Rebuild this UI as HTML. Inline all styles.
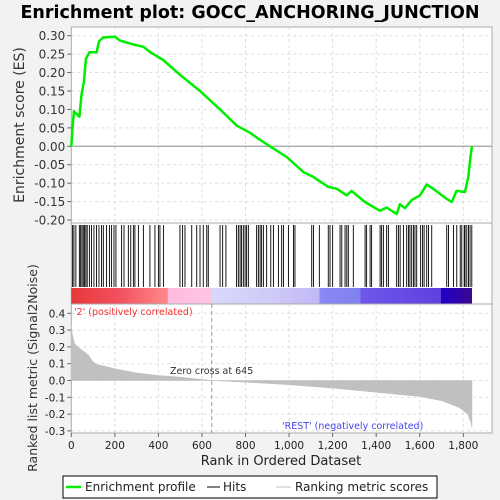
<!DOCTYPE html>
<html><head><meta charset="utf-8"><style>
body{margin:0;background:#f2f2f2;}
svg{display:block;font-family:"DejaVu Sans","Liberation Sans",sans-serif;}
</style></head><body>
<svg id="chart" width="500" height="500">
<rect x="0" y="0" width="500" height="500" fill="#f2f2f2"/>
<text x="250" y="18" text-anchor="middle" font-size="17.5" font-weight="bold" fill="#000">Enrichment plot: GOCC_ANCHORING_JUNCTION</text>
<defs>
<linearGradient id="cbar" x1="0" x2="1" y1="0" y2="0">
<stop offset="0" stop-color="#e83838"/>
<stop offset="0.12" stop-color="#f25060"/>
<stop offset="0.24" stop-color="#ff8a8a"/>
<stop offset="0.242" stop-color="#ffbbdd"/>
<stop offset="0.35" stop-color="#ffc4e4"/>
<stop offset="0.351" stop-color="#d8d8fa"/>
<stop offset="0.5" stop-color="#cfcaf8"/>
<stop offset="0.619" stop-color="#c0b8f6"/>
<stop offset="0.62" stop-color="#8888f6"/>
<stop offset="0.721" stop-color="#8080f0"/>
<stop offset="0.722" stop-color="#6e58ea"/>
<stop offset="0.922" stop-color="#6040e0"/>
<stop offset="0.923" stop-color="#2200c8"/>
<stop offset="1" stop-color="#3a0890"/>
</linearGradient>
</defs>
<g id="topPanel"></g>
<g id="botPanel"></g>
<text transform="translate(24,125) rotate(-90)" text-anchor="middle" font-size="14" fill="#333">Enrichment score (ES)</text>
<text transform="translate(37,368) rotate(-90)" text-anchor="middle" font-size="12.5" fill="#333">Ranked list metric (Signal2Noise)</text>
<text x="281" y="465" text-anchor="middle" font-size="13" fill="#222">Rank in Ordered Dataset</text>
<g>
<rect x="63" y="476" width="374" height="22" fill="#fff" stroke="#000"/>
<line x1="66" y1="487" x2="81" y2="487" stroke="#00ee00" stroke-width="2.5"/>
<text x="85" y="491" font-size="12" fill="#222">Enrichment profile</text>
<line x1="207" y1="487" x2="220" y2="487" stroke="#000"/>
<text x="223" y="491" font-size="12" fill="#222">Hits</text>
<line x1="276" y1="487" x2="291" y2="487" stroke="#c0c0c0"/>
<text x="295" y="491" font-size="12" fill="#222">Ranking metric scores</text>
</g>
</svg>
<script>
const esRanks=[0,6,12,37,47,58,67,83,116,127,147,200,223,285,331,361,422,499,591,683,760,820,858,912,989,1066,1111,1180,1218,1264,1287,1348,1417,1448,1494,1509,1532,1563,1601,1632,1662,1723,1747,1769,1808,1823,1834,1840];
const esValues=[0,0.052,0.095,0.08,0.14,0.175,0.237,0.255,0.255,0.285,0.295,0.297,0.287,0.276,0.27,0.256,0.234,0.194,0.15,0.1,0.056,0.037,0.021,0,-0.029,-0.07,-0.083,-0.11,-0.115,-0.133,-0.121,-0.151,-0.175,-0.166,-0.184,-0.157,-0.168,-0.146,-0.133,-0.104,-0.115,-0.142,-0.151,-0.121,-0.124,-0.083,-0.024,0];
const hitRanks=[6,12,21,37,43,49,55,61,67,73,83,93,104,116,127,139,147,162,175,185,196,205,231,242,262,273,285,292,308,331,361,384,400,407,423,499,511,522,553,576,591,606,622,629,683,695,710,759,767,775,782,790,798,805,813,851,859,867,874,882,897,916,928,951,966,974,997,1020,1027,1104,1112,1139,1180,1188,1200,1234,1242,1257,1265,1272,1295,1349,1356,1372,1379,1418,1425,1433,1448,1456,1494,1502,1510,1525,1540,1548,1555,1563,1571,1578,1586,1604,1613,1620,1632,1640,1655,1724,1732,1755,1770,1786,1793,1804,1808,1816,1824,1831,1839];
const metricRanks=[0,5,15,30,60,80,100,120,200,300,400,500,645,800,1000,1200,1400,1600,1700,1780,1820,1835,1840];
const metricValues=[0.33,0.27,0.22,0.2,0.17,0.15,0.11,0.095,0.07,0.045,0.03,0.02,0,-0.01,-0.025,-0.045,-0.07,-0.095,-0.12,-0.16,-0.2,-0.25,-0.28];
const xTicks=[0,200,400,600,800,1000,1200,1400,1600,1800];
const xTickLabels=["0","200","400","600","800","1,000","1,200","1,400","1,600","1,800"];
const esTicks=[0.30,0.25,0.20,0.15,0.10,0.05,0.00,-0.05,-0.10,-0.15,-0.20];
const metricTicks=[0.4,0.3,0.2,0.1,0.0,-0.1,-0.2,-0.3];
const zeroCross=645;

const NS="http://www.w3.org/2000/svg";
const L=71.3,R=492;
const x=r=>L+r*(392/1800);
const yEs=v=>146.3-v*368.7;
const yM=v=>380.5-v*168;
function mk(tag,attrs,parent,text){const e=document.createElementNS(NS,tag);for(const k in attrs)e.setAttribute(k,attrs[k]);if(text!==undefined)e.textContent=text;parent.appendChild(e);return e;}
const topG=document.getElementById('topPanel'),botG=document.getElementById('botPanel');

let p=mk('rect',{x:L,y:27,width:R-L,height:196,fill:'#fff',stroke:'#aaa'},topG);


p=mk('rect',{x:L,y:223,width:R-L,height:81,fill:'#fff',stroke:'#aaa'},topG);


p=mk('rect',{x:L,y:304,width:R-L,height:129,fill:'#fff',stroke:'#aaa'},botG);



xTicks.forEach((t,i)=>{
  if(i>0){
  let g=mk('line',{x1:x(t),x2:x(t),y1:27,y2:223,stroke:'#ddd','stroke-dasharray':'3,3'},topG);
  
  
  g=mk('line',{x1:x(t),x2:x(t),y1:304,y2:433,stroke:'#ddd','stroke-dasharray':'3,3'},botG);
  
  }
  let tk=mk('line',{x1:x(t),x2:x(t),y1:433,y2:437,stroke:'#666'},botG);
  
  
  let lb=mk('text',{x:x(t),y:449,'text-anchor':'middle','font-size':'10.5',fill:'#222'},botG,xTickLabels[i]);
  
  
});
esTicks.forEach(t=>{
  let g=mk('line',{x1:L,x2:R,y1:yEs(t),y2:yEs(t),stroke:t===0?'#aaa':'#ddd','stroke-dasharray':t===0?'':'3,3','stroke-width':t===0?1.3:1},topG);
  
  
  let tk=mk('line',{x1:L-4,x2:L,y1:yEs(t),y2:yEs(t),stroke:'#666'},topG);
  
  
  let lb=mk('text',{x:L-6,y:yEs(t)+4.5,'text-anchor':'end','font-size':'12',fill:'#333'},topG,t.toFixed(2));
  
  
});
metricTicks.forEach(t=>{
  let g=mk('line',{x1:L,x2:R,y1:yM(t),y2:yM(t),stroke:'#ddd','stroke-dasharray':'3,3'},botG);
  
  
  let tk=mk('line',{x1:L-4,x2:L,y1:yM(t),y2:yM(t),stroke:'#666'},botG);
  
  
  let lb=mk('text',{x:L-6,y:yM(t)+4,'text-anchor':'end','font-size':'10.5',fill:'#222'},botG,t.toFixed(1));
  
  
});

let d=esRanks.map((r,i)=>(i?'L':'M')+x(r).toFixed(1)+','+yEs(esValues[i]).toFixed(1)).join('');
let es=mk('path',{d:d,fill:'none',stroke:'#00ee00','stroke-width':2.5,'stroke-linejoin':'round'},topG);



hitRanks.forEach(r=>{
  let h=mk('line',{x1:x(r),x2:x(r),y1:225,y2:287,stroke:'#000','stroke-width':0.9},topG);
  
  
});
let cb=mk('rect',{x:L,y:288,width:x(1840)-L,height:16,fill:'url(#cbar)'},topG);



let md='M'+x(0)+','+yM(0)+metricRanks.map((r,i)=>'L'+x(r).toFixed(1)+','+yM(metricValues[i]).toFixed(1)).join('')+'L'+x(1840)+','+yM(0)+'Z';
let ma=mk('path',{d:md,fill:'#c0c0c0',stroke:'#c0c0c0','stroke-width':0.5},botG);


let zc=mk('line',{x1:x(zeroCross),x2:x(zeroCross),y1:304,y2:433,stroke:'#999','stroke-dasharray':'4,3'},botG);


let zt=mk('text',{x:170,y:374,'font-size':'9.5',fill:'#333'},botG,'Zero cross at '+zeroCross);


let pt=mk('text',{x:74,y:315,'font-size':'9.5',fill:'#ee3030'},botG,"'2' (positively correlated)");


let nt=mk('text',{x:282,y:429,'font-size':'9.5',fill:'#4444ee'},botG,"'REST' (negatively correlated)");


</script>
</body></html>
